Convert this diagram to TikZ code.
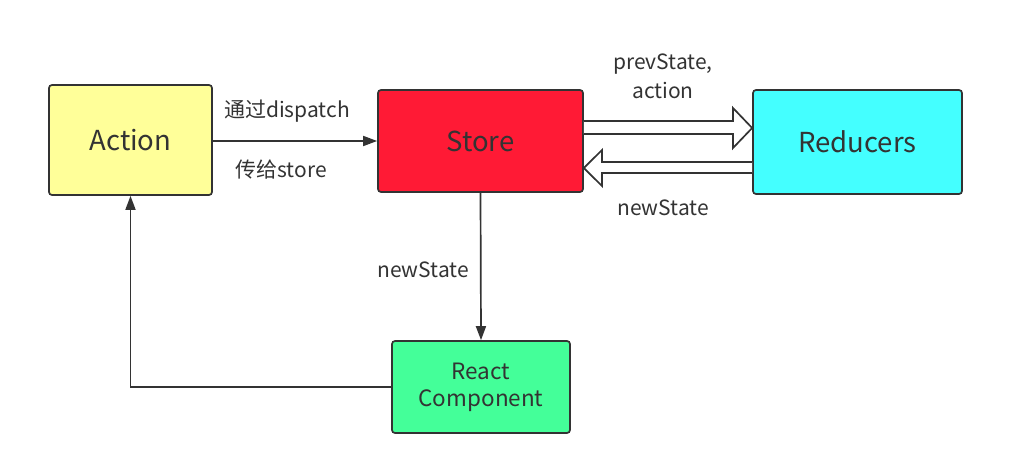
\documentclass[tikz,border=0pt]{standalone}
\usepackage{fontspec}
\setmainfont{Noto Sans CJK SC}
\usetikzlibrary{arrows.meta,calc}
\definecolor{ink}{HTML}{333333}
\definecolor{actfill}{HTML}{FFFF99}
\definecolor{storefill}{HTML}{FF1A35}
\definecolor{redfill}{HTML}{44FFFF}
\definecolor{reactfill}{HTML}{44FF99}
\begin{document}
\begin{tikzpicture}[x=1pt,y=-1pt,
  box/.style={draw=ink,line width=1.7pt,rounded corners=3pt,inner sep=0pt,align=center,text=ink},
  lbl/.style={text=ink,font=\fontsize{21}{25}\selectfont,inner sep=0pt},
  conn/.style={draw=ink,line width=1.7pt,-{Triangle[length=14pt,width=10pt]}},
  fat/.style={draw=ink,line width=1.7pt,fill=white,line join=miter}]
\useasboundingbox (0,0) rectangle (1014,452);
\node[box,fill=actfill,minimum width=163pt,minimum height=110pt,font=\fontsize{27.5}{32}\selectfont] (action) at (130.5,140) {Action};
\node[box,fill=storefill,minimum width=205pt,minimum height=102pt,font=\fontsize{27.5}{32}\selectfont] (store) at (480.5,141) {Store};
\node[box,fill=redfill,minimum width=209pt,minimum height=104pt,font=\fontsize{27.5}{32}\selectfont] (reducers) at (857.5,142) {Reducers};
\node[box,fill=reactfill,minimum width=178pt,minimum height=92pt,font=\fontsize{22.5}{27}\selectfont] (react) at (481,387) {React\\Component};
% Action -> Store
\draw[conn] (action.east |- 0,141) -- (store.west |- 0,141);
\node[lbl] (l1) at (287,111) {通过dispatch};
\node[lbl] (l2) at (281,170) {传给store};
% Store -> React
\draw[conn] (store.south) -- (react.north);
\node[lbl] (l3) at (423,270) {newState};
% React -> Action
\coordinate (corner) at (action.south |- react.west);
\draw[conn] (react.west) -- (corner) -- (action.south);
% fat arrows
\draw[fat] (store.east |- 0,121) -- (733,121) -- (733,108) -- (reducers.west |- 0,128) -- (733,148) -- (733,134) -- (store.east |- 0,134);
\draw[fat] (reducers.west |- 0,162) -- (602,162) -- (602,150) -- (store.east |- 0,168) -- (602,186) -- (602,173) -- (reducers.west |- 0,173);
\node[lbl] (l4) at (663,64) {prevState,};
\node[lbl] (l5) at (663,90) {action};
\node[lbl] (l6) at (663,208) {newState};
\end{tikzpicture}
\end{document}
